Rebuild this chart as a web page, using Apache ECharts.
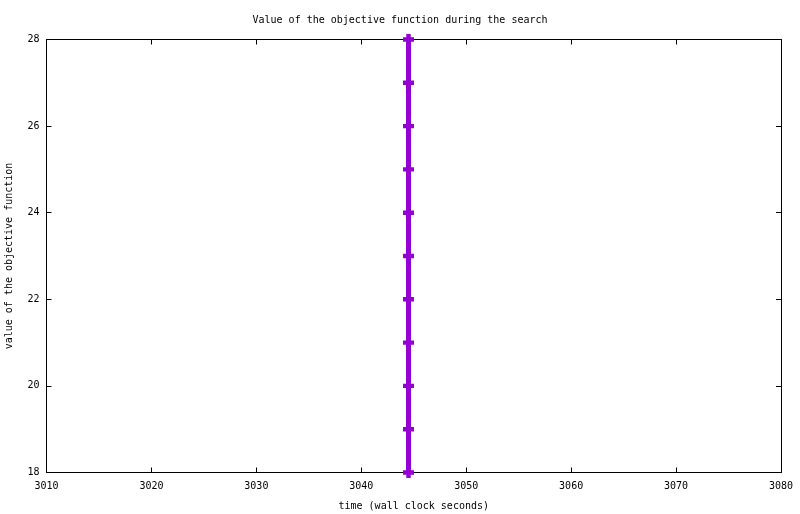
<!DOCTYPE html>
<html>
<head>
<meta charset="utf-8">
<script src="https://cdn.jsdelivr.net/npm/echarts@6/dist/echarts.min.js"></script>
<style>html,body{margin:0;padding:0;background:#fff;}#c{width:800px;height:514px;}</style>
</head>
<body>
<div id="c"></div>
<script>
var titleText = 'Value of the objective function during the search';
var xName = 'time (wall clock seconds)';
var yName = 'value of the objective function';
var xTimes = [3044.5, 3044.5, 3044.5, 3044.5, 3044.5, 3044.5, 3044.5, 3044.5, 3044.5, 3044.5, 3044.5];
var objValues = [18, 19, 20, 21, 22, 23, 24, 25, 26, 27, 28];
var xMin = 3010, xMax = 3080, xStep = 10;
var yMin = 18, yMax = 28, yStep = 2;

var font = 'DejaVu Sans Mono';
var chart = echarts.init(document.getElementById('c'), null, {renderer: 'canvas'});
var pts = xTimes.map(function (x, i) { return [x, objValues[i]]; });
function axisBase(show) {
  return {
    axisLine: {show: true, onZero: false, lineStyle: {color: '#000', width: 1}},
    axisTick: {show: true, inside: true, length: 5, lineStyle: {color: '#000', width: 1}},
    splitLine: {show: false},
    axisLabel: {show: show, color: '#000', fontFamily: font, fontSize: 10, formatter: function (v) { return String(v); }}
  };
}
var xa0 = Object.assign(axisBase(true), {type: 'value', position: 'bottom', min: xMin, max: xMax, interval: xStep,
  name: xName, nameLocation: 'middle', nameGap: 29, nameTextStyle: {color: '#000', fontFamily: font, fontSize: 10}});
xa0.axisLabel.margin = 9;
var xa1 = Object.assign(axisBase(false), {type: 'value', position: 'top', min: xMin, max: xMax, interval: xStep});
var ya0 = Object.assign(axisBase(true), {type: 'value', position: 'left', min: yMin, max: yMax, interval: yStep,
  name: yName, nameLocation: 'middle', nameGap: 32, nameRotate: 90, nameTextStyle: {color: '#000', fontFamily: font, fontSize: 10}});
ya0.axisLabel.margin = 7;
var ya1 = Object.assign(axisBase(false), {type: 'value', position: 'right', min: yMin, max: yMax, interval: yStep});

chart.setOption({
  animation: false,
  backgroundColor: '#fff',
  title: {text: titleText, left: 'center', top: 10, textStyle: {color: '#000', fontFamily: font, fontSize: 10, fontWeight: 'normal'}},
  grid: {left: 46.5, right: 19, top: 39.5, bottom: 41.5, containLabel: false, outerBoundsMode: 'none'},
  xAxis: [xa0, xa1],
  yAxis: [ya0, ya1],
  series: [{
    type: 'line',
    xAxisIndex: 0, yAxisIndex: 0,
    data: pts,
    lineStyle: {color: '#9400D3', width: 5},
    itemStyle: {color: '#9400D3'},
    symbol: 'path://M3,0H7V3H10V7H7V10H3V7H0V3H3Z',
    symbolSize: [11, 11],
    showSymbol: true,
    clip: false,
    z: 1
  }]
});
</script>
</body>
</html>
